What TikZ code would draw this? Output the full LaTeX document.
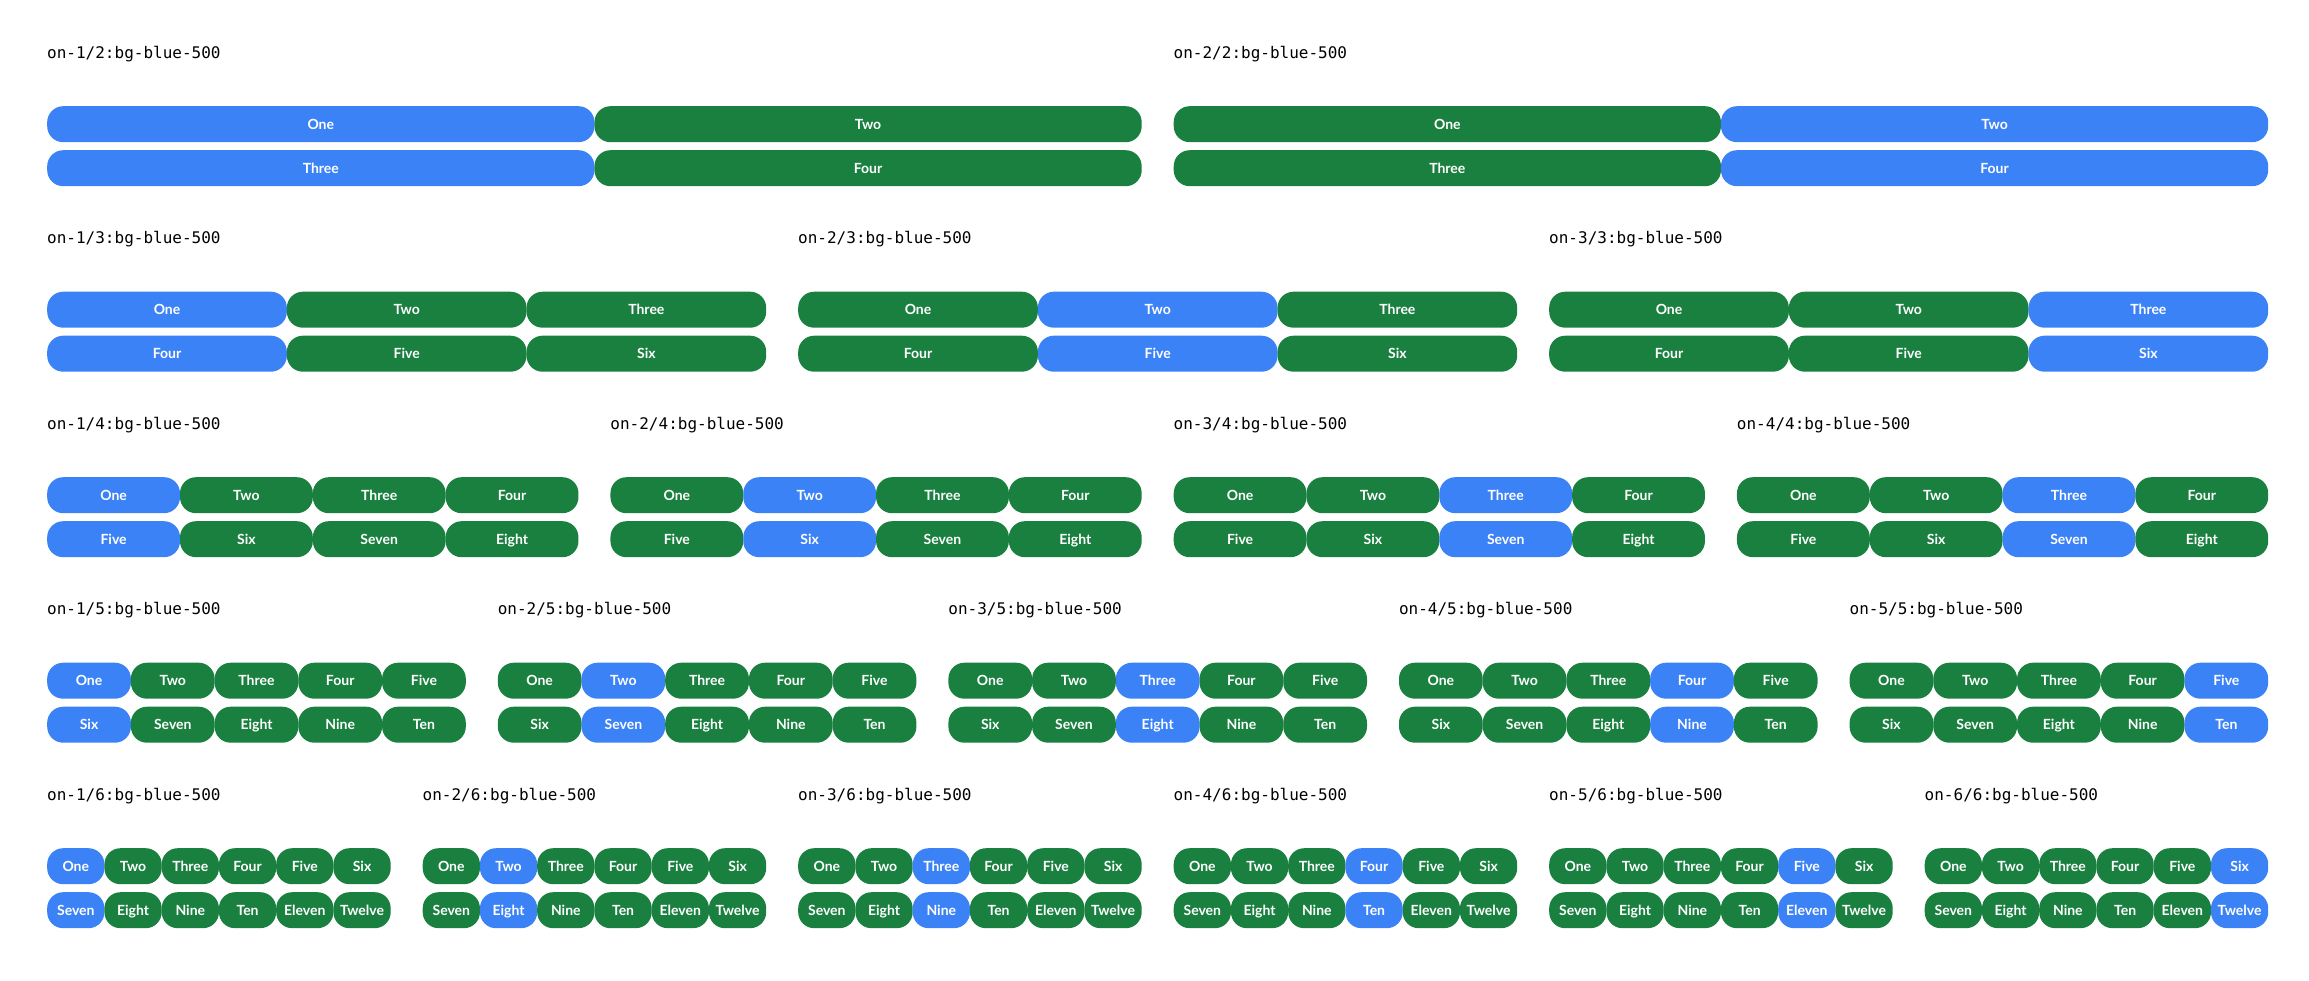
\documentclass[tikz,border=0pt]{standalone}
\usepackage{fontspec}
\setmainfont{Lato}
\newfontfamily\monof{DejaVu Sans Mono}
\definecolor{blueP}{HTML}{3B82F6}
\definecolor{greenP}{HTML}{19803F}
\newcommand\numname[1]{\ifcase#1\or One\or Two\or Three\or Four\or Five\or Six\or Seven\or Eight\or Nine\or Ten\or Eleven\or Twelve\fi}
\tikzset{
  pill/.style={rounded corners=16pt, minimum height=36pt, inner sep=0pt, text=white,
    font=\fontsize{14}{16}\selectfont\bfseries, text height=10pt, text depth=0pt, anchor=north west},
  lbl/.style={inner sep=0pt, anchor=base west, font=\monof\fontsize{16}{18}\selectfont, text=black}
}
\begin{document}
\begin{tikzpicture}[x=1pt,y=-1pt]
\useasboundingbox (0,0) rectangle (2309,980);
\foreach \n [count=\k] in {2,...,6} {
  \pgfmathsetmacro\gw{(2221-(\n-1)*32)/\n}
  \pgfmathsetmacro\pw{\gw/\n}
  \pgfmathsetmacro\ty{106+185.5*(\k-1)}
  \foreach \g in {1,...,\n} {
    \pgfmathsetmacro\gx{47+(\g-1)*(\gw+32)}
    \node[lbl] (L\n-\g) at (\gx, \ty-48) {on-\g/\n:bg-blue-500};
    \pgfmathtruncatemacro\bc{(\n==4 && \g==4) ? 3 : \g}
    \foreach \r in {0,1} {
      \foreach \c in {1,...,\n} {
        \pgfmathtruncatemacro\idx{\r*\n+\c}
        \ifnum\c=\bc\def\fc{blueP}\else\def\fc{greenP}\fi
        \node[pill, fill=\fc, minimum width=\pw pt] (P\n-\g-\r-\c) at (\gx+\c*\pw-\pw, \ty+\r*44) {\numname{\idx}};
      }
    }
  }
}
\end{tikzpicture}
\end{document}
